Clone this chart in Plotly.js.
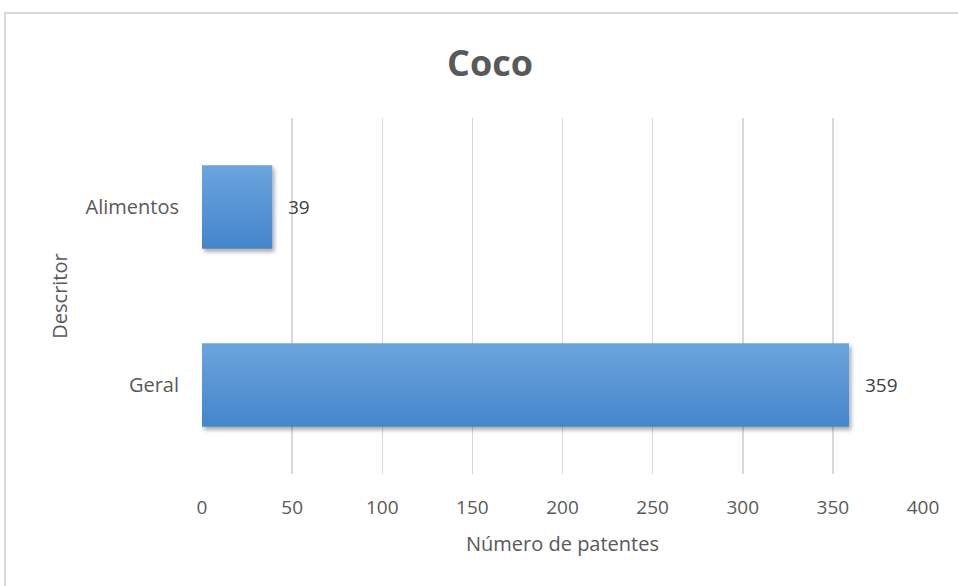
<!DOCTYPE html>
<html>
<head>
<meta charset="utf-8">
<script src="https://cdn.plot.ly/plotly-3.0.1.min.js"></script>
<style>html,body{margin:0;padding:0;background:#fff;}#chart{width:958px;height:586px;}</style>
</head>
<body>
<div id="chart"></div>
<script>
const categories = ["Geral", "Alimentos"];
const values = [359, 39];
const tickVals = [0, 50, 100, 150, 200, 250, 300, 350, 400];
const chartTitle = "Coco";
const xTitle = "Número de patentes";
const yTitle = "Descritor";

const FONT = "'Open Sans', 'Noto Sans', sans-serif";
const GRAY = "#595959";

const trace = {
  type: "bar",
  orientation: "h",
  y: categories,
  x: values,
  width: 0.47,
  marker: {color: "#5597d8", line: {width: 0}},
  hoverinfo: "none"
};

const annotations = categories.map((c, i) => ({
  x: values[i], y: c, xref: "x", yref: "y",
  text: String(values[i]), showarrow: false,
  xanchor: "left", xshift: 14,
  font: {family: FONT, size: 19, color: "#404040"}
}));

const layout = {
  width: 958, height: 586,
  margin: {l: 202, r: 35, t: 118, b: 112},
  paper_bgcolor: "#fff", plot_bgcolor: "#fff",
  showlegend: false,
  title: {text: "<b>" + chartTitle + "</b>", font: {family: FONT, size: 36, color: GRAY},
          xref: "container", x: 490/958, xanchor: "center", yref: "container", y: 1 - 63/586, yanchor: "middle"},
  xaxis: {
    range: [0, 400], tickvals: tickVals, showgrid: true, gridcolor: "#d9d9d9", gridwidth: 1.5,
    zeroline: false, showline: false, ticks: "", ticklabelstandoff: 20,
    tickfont: {family: FONT, size: 19, color: GRAY},
    title: {text: xTitle, font: {family: FONT, size: 20, color: GRAY}, standoff: 17},
    fixedrange: true
  },
  yaxis: {
    showgrid: false, zeroline: false, showline: false, ticks: "", ticklabelstandoff: 22,
    tickfont: {family: FONT, size: 20, color: GRAY},
    title: {text: yTitle, font: {family: FONT, size: 20, color: GRAY}, standoff: 12},
    fixedrange: true
  },
  annotations: annotations,
  shapes: [{type: "rect", xref: "paper", yref: "paper", x0: (5-202)/721, x1: 1.2, y0: -0.4, y1: (474-13)/356,
            line: {color: "#d9d9d9", width: 2}, fillcolor: "rgba(0,0,0,0)", layer: "below"}]
};

Plotly.newPlot("chart", [trace], layout, {displayModeBar: false, staticPlot: true}).then(gd => {
  const svg = gd.querySelector("svg.main-svg");
  const ns = "http://www.w3.org/2000/svg";
  let defs = svg.querySelector("defs");
  if (!defs) { defs = document.createElementNS(ns, "defs"); svg.insertBefore(defs, svg.firstChild); }
  defs.insertAdjacentHTML("beforeend",
    '<linearGradient id="barGrad" x1="0" y1="0" x2="0" y2="1">' +
    '<stop offset="0" stop-color="#6ca4dd"/><stop offset="1" stop-color="#4386cc"/></linearGradient>' +
    '<filter id="barShadow" x="-10%" y="-20%" width="130%" height="160%">' +
    '<feDropShadow dx="2" dy="3" stdDeviation="2.2" flood-color="#000" flood-opacity="0.35"/></filter>');
  gd.querySelectorAll(".barlayer .point path, .barlayer path.point, g.point > path").forEach(p => {
    p.style.fill = "url(#barGrad)";
    p.setAttribute("filter", "url(#barShadow)");
  });
});
</script>
</body>
</html>
